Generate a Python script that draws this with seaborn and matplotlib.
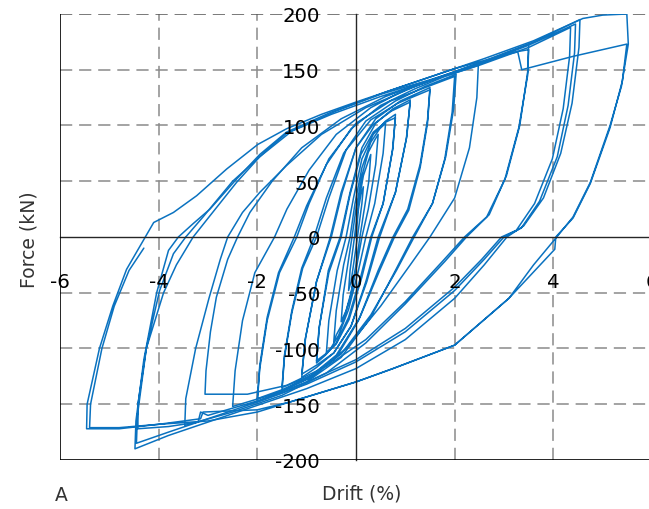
import numpy as np
import pandas as pd
import matplotlib
matplotlib.use("Agg")
from matplotlib import pyplot as plt
import seaborn as sns

# hysteresis path, cut in stages (drift in %, force in kN)
drift_small = [0, 0.05, 0.1, 0.15, 0.12, 0.03, -0.05, -0.1, -0.15, -0.12, -0.03,
               0.05, 0.15, 0.25, 0.3, 0.26, 0.15, 0.08, 0.0, -0.1, -0.2, -0.3, -0.26, -0.15, -0.08,
               0.0, 0.12, 0.25, 0.38, 0.45, 0.4, 0.25, 0.12, 0.02, -0.12, -0.28, -0.4, -0.45, -0.4, -0.25, -0.12,
               -0.02, 0.12, 0.3, 0.48, 0.6, 0.55, 0.38, 0.2, 0.05, -0.15, -0.35, -0.5, -0.6, -0.55, -0.38, -0.2,
               -0.05, 0.12, 0.35, 0.6, 0.8, 0.75, 0.55, 0.3, 0.1, -0.15, -0.4, -0.62, -0.8, -0.75, -0.55, -0.3,
               -0.12, 0.1, 0.35, 0.6, 0.8, 0.74, 0.55, 0.32, 0.12, -0.14, -0.4, -0.62, -0.8, -0.74, -0.56, -0.32,
               -0.12, 0.12, 0.4, 0.75, 1.1, 1.03, 0.8, 0.45, 0.2, -0.1, -0.45, -0.8, -1.1, -1.03, -0.8, -0.5,
               -0.28, 0.0, 0.35, 0.72, 1.1, 1.02, 0.8, 0.48, 0.22, -0.1, -0.45, -0.8, -1.1, -1.02, -0.8, -0.52]
force_small = [0, 25, 38, 45, 30, 0, -25, -40, -48, -30, 0,
               30, 55, 68, 74, 50, 20, 0, -25, -50, -66, -76, -52, -20, 0,
               25, 55, 76, 87, 92, 65, 25, 0, -25, -55, -78, -88, -94, -66, -25, 0,
               30, 62, 85, 97, 102, 75, 30, 0, -30, -65, -88, -99, -104, -75, -30, 0,
               35, 70, 92, 104, 110, 80, 30, 0, -35, -72, -95, -106, -113, -82, -32, 0,
               38, 74, 94, 103, 107, 78, 30, 0, -36, -74, -96, -105, -111, -80, -30, 0,
               40, 80, 102, 115, 123, 90, 40, 0, -40, -80, -104, -117, -126, -92, -40, 0,
               40, 80, 101, 113, 121, 88, 40, 0, -40, -80, -104, -115, -123, -90, -40, 0]

drift_mid = [-0.52, -0.3, 0.0, 0.4, 0.9, 1.5, 1.45, 1.3, 1.05, 0.75, 0.45, 0.05, -0.4, -0.9, -1.5, -1.45, -1.3, -1.08, -0.8,
             -0.55, -0.2, 0.3, 0.85, 1.5, 1.45, 1.3, 1.07, 0.78, 0.48, 0.08, -0.4, -0.9, -1.5, -1.45, -1.3, -1.1, -0.85,
             -0.6, -0.25, 0.2, 0.8, 1.4, 2.03, 1.98, 1.82, 1.55, 1.15, 0.8, 0.3, -0.3, -1.0, -1.5, -2.0, -1.95, -1.8, -1.55, -1.2,
             -0.95, -0.55, 0.0, 0.7, 1.4, 2.0, 1.95, 1.8, 1.55, 1.18, 0.82, 0.3, -0.3, -1.0, -1.5, -2.0, -1.95, -1.8, -1.57, -1.25,
             -1.0, -0.6, -0.1, 0.5, 1.2, 1.8, 2.48, 2.45, 2.3, 2.0, 1.5, 1.1, 0.5, -0.2, -0.9, -1.6, -2.5, -2.45, -2.3, -2.05, -1.65]
force_mid = [0, 40, 80, 106, 122, 134, 105, 65, 25, 0, -30, -75, -108, -126, -138, -108, -68, -28, 0,
             35, 78, 105, 120, 132, 102, 62, 24, 0, -30, -72, -106, -124, -135, -106, -66, -28, 0,
             35, 75, 104, 122, 135, 146, 115, 72, 30, 0, -30, -72, -108, -130, -140, -148, -118, -75, -32, 0,
             30, 70, 102, 122, 134, 144, 112, 70, 30, 0, -30, -70, -105, -127, -137, -145, -115, -72, -32, 0,
             28, 65, 97, 118, 133, 144, 154, 125, 80, 35, 0, -25, -62, -100, -125, -140, -152, -120, -75, -32, 0]

drift_35 = [-1.65, -1.4, -0.95, -0.4, 0.3, 1.0, 2.0, 2.8, 3.5, 3.48, 3.32, 3.05, 2.7, 2.24, 1.8, 1.0, 0.2, -0.6, -1.5,
            -2.5, -3.47, -3.45, -3.25, -2.98, -2.75, -2.6,
            -2.3, -1.95, -1.41, -0.7, 0.2, 1.2, 2.3, 3.1, 3.5, 3.48, 3.3, 3.02, 2.65, 2.2, 1.75, 1.0, 0.2, -0.6, -1.4,
            -2.2, -2.7, -3.06, -3.04, -2.95, -2.83, -2.6, -2.4]
force_35 = [0, 25, 60, 92, 116, 132, 148, 160, 173, 148, 100, 55, 20, 0, -22, -60, -95, -122, -142,
            -157, -169, -145, -100, -55, -20, 0,
            22, 40, 64, 92, 116, 135, 153, 165, 168, 145, 98, 52, 18, 0, -22, -58, -92, -116, -133,
            -141, -141, -141, -120, -85, -54, -20, 0]

drift_45 = [-2.4, -2.15, -1.7, -1.1, -0.3, 0.6, 1.6, 2.6, 3.6, 4.54, 4.52, 4.38, 4.15, 3.8, 3.4, 3.06, 2.6, 2.0, 1.0,
            0.0, -1.0, -2.0, -3.0, -3.8, -4.48, -4.46, -4.3, -4.04, -3.8, -3.6,
            -3.3, -2.96, -2.42, -1.95, -1.41, -0.5, 0.5, 1.5, 2.5, 3.5, 4.45, 4.43, 4.3, 4.08, 3.72, 3.35, 3.0, 2.6,
            2.0, 1.0, 0.0, -1.0, -2.0, -3.0, -3.8, -4.45, -4.43, -4.25, -3.9, -3.64, -3.3,
            -2.96, -2.42, -1.95, -1.41, -0.5, 0.5, 1.5, 2.5, 3.5, 4.35, 4.33, 4.2, 3.98, 3.62, 3.25, 2.95, 2.55, 2.0,
            1.0, 0.0, -1.0, -2.0, -3.0, -3.15, -3.2, -3.8, -4.42, -4.42, -4.25, -3.98, -3.7, -3.45]
force_45 = [0, 22, 50, 80, 106, 126, 142, 158, 175, 195, 170, 120, 75, 35, 10, 0, -25, -55, -92,
            -118, -136, -151, -166, -178, -190, -165, -110, -50, -12, 0,
            12, 25, 52, 74, 94, 112, 128, 141, 155, 172, 191, 165, 118, 72, 32, 8, 0, -20,
            -48, -85, -112, -132, -148, -163, -175, -185, -160, -100, -50, -25, 0,
            19, 49, 72, 93, 110, 126, 140, 154, 170, 188, 162, 115, 70, 30, 6, 0, -20, -45,
            -82, -110, -130, -147, -160, -157, -166, -170, -172, -150, -100, -48, -15, 0]

drift_55 = [-3.45, -3.1, -2.5, -1.95, -1.3, -0.4, 0.6, 1.6, 2.6, 3.6, 4.6, 5.0, 5.49, 5.52, 5.38, 5.15, 4.75, 4.4,
            4.07, 3.6, 3.1, 2.0, 0.75, 0.0, -1.34, -2.0, -3.1, -3.15, -4.0, -4.8, -5.46, -5.45, -5.2, -4.93,
            -4.65, -4.1, -3.7, -3.23, -2.62, -1.99, -1.41, -0.7, 0.0, 1.0, 2.0, 3.0, 3.28, 3.36, 4.4, 5.49, 5.4, 5.15, 4.75,
            4.4, 4.05, 4.03, 3.1, 2.0, 0.75, 0.0, -1.34, -2.0, -3.0, -4.0, -4.8, -5.4, -5.38, -5.15, -4.9, -4.6, -4.3]
force_55 = [0, 18, 50, 72, 95, 113, 130, 145, 160, 176, 196, 199, 200, 173, 135, 100, 49, 18,
            0, -25, -55, -97, -118, -130, -148, -155, -157, -163, -168, -172, -172, -150, -100, -62,
            -29, 13, 22, 37, 61, 83, 97, 110, 121, 136, 151, 163, 166, 150, 162, 173, 140, 98, 48,
            17, 0, -11, -55, -97, -118, -130, -148, -157, -165, -168, -171, -171, -150, -100, -62, -30, -10]

x_ticks = [-6, -4, -2, 0, 2, 4, 6]
y_ticks = [-200, -150, -100, -50, 0, 50, 100, 150, 200]

sns.set_style("white")
plt.rcParams['font.family'] = ['DejaVu Sans']
plt.rcParams['axes.unicode_minus'] = False

fig = plt.figure(figsize=(6.49, 5.10), dpi=100)
ax = fig.add_axes([0.0924, 0.0961, 0.9122, 0.8745])

stages = [(drift_small, force_small), (drift_mid, force_mid), (drift_35, force_35),
          (drift_45, force_45), (drift_55, force_55)]
for d, f in stages:
    sns.lineplot(x=d, y=f, sort=False, estimator=None, color='#0a72c0', lw=1.1, ax=ax)

ax.set_xlim(-6, 6)
ax.set_ylim(-200, 200)

# dashed grid
for xv in x_ticks:
    if xv not in (-6, 0):
        ax.axvline(xv, color='#8a8a8a', lw=1.1, ls=(0, (8, 4.5)), zorder=0.5)
for yv in y_ticks:
    if yv not in (-200, 0):
        ax.axhline(yv, color='#555555' if yv == 200 else '#8a8a8a', lw=1.1, ls=(0, (8, 4.5)), zorder=0.5)

# outer box (left / bottom) and the crossing axes at zero
ax.axvline(-6, color='black', lw=1.2, zorder=3)
ax.axhline(-200, color='black', lw=1.2, zorder=3)
for s in ['top', 'right']:
    ax.spines[s].set_visible(False)
ax.spines['left'].set_position(('data', 0))
ax.spines['bottom'].set_position(('data', 0))
ax.spines['left'].set_linewidth(1.0)
ax.spines['bottom'].set_linewidth(1.0)
ax.set_axisbelow(False)

ax.set_xticks(x_ticks)
ax.set_yticks(y_ticks)
ax.tick_params(axis='both', direction='inout', length=8, width=1.0, labelsize=14.2, colors='black')
ax.tick_params(axis='x', pad=21)
ax.tick_params(axis='y', pad=22)

ax.set_xlabel('')
ax.set_ylabel('')
fig.text(0.557, 0.031, 'Drift (%)', fontsize=13.5, color='#333333', ha='center', va='center')
fig.text(0.044, 0.53, 'Force (kN)', fontsize=13.5, color='#333333', ha='center', va='center', rotation=90)
fig.text(0.095, 0.028, 'A', fontsize=13.5, color='#333333', ha='center', va='center')

fig.savefig('out.png', dpi=100)
